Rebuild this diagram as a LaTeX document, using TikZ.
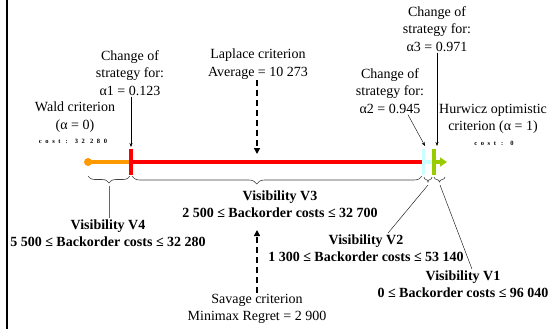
\documentclass[tikz,border=0pt]{standalone}
\usepackage{fontspec}
\setmainfont{Liberation Serif}
\newfontfamily\costfont[LetterSpace=55]{Liberation Serif}
\usepackage{tikz}
\usetikzlibrary{arrows.meta,decorations.pathreplacing}
\definecolor{waldorange}{RGB}{255,153,0}
\definecolor{lapred}{RGB}{255,0,0}
\definecolor{lightcyan}{RGB}{204,255,255}
\definecolor{hurgreen}{RGB}{153,204,0}

\tikzset{
  crit/.style={align=center, inner sep=1pt, font=\fontsize{14}{17.5}\selectfont},
  vis/.style={align=center, inner sep=1pt, font=\fontsize{14}{17.5}\selectfont\bfseries},
  cost/.style={inner sep=0pt, font=\costfont\fontsize{6.5}{7}\selectfont\bfseries},
  pointer/.style={-{Stealth[length=4pt,width=3pt]}, line width=0.4pt},
  dasharrow/.style={-{Triangle[length=6pt,width=6pt]}, line width=1.8pt, dash pattern=on 6pt off 4pt},
  seg/.style={line width=4.5pt},
  tickbar/.style={line width=3.5pt},
  vbrace/.style={decorate, decoration={brace, mirror, amplitude=#1}, black!75, line width=0.6pt},
}

\begin{document}
\begin{tikzpicture}[x=1pt,y=-1pt]
    \useasboundingbox (0,0) rectangle (553,329);
    % frame on the left
    \draw[line width=2.5pt] (7,0) -- (7,329);

    % alpha axis
    \coordinate (a0) at (88,162);
    \coordinate (a1) at (131,162);
    \coordinate (a2) at (423.5,162);
    \coordinate (a3) at (434,162);
    \coordinate (a4) at (447,162);
    \draw[seg,waldorange] (a0) -- (a1);
    \draw[seg,lapred] (a1) -- (a2);
    \draw[seg,lightcyan] (a2) -- (a3);
    \draw[seg,hurgreen,-{Triangle[length=7pt,width=9pt]}] (a3) -- (a4);
    \fill[waldorange] (a0) circle (4pt);
    \draw[tickbar,lapred] (a1) ++(0,-13) -- ++(0,26);
    \draw[tickbar,lightcyan] (a2) ++(0,-13) -- ++(0,26);
    \draw[tickbar,hurgreen] (a3) ++(0,-13) -- ++(0,26);

    % criteria above the axis
    \node[crit] (wald) at (75,117) {Wald criterion\\(α = 0)};
    \node[cost] (waldcost) at (73,141) {cost : 32 280};
    \node[crit] (ch1) at (130,73) {Change of\\strategy for:\\α1 = 0.123};
    \node[crit] (laplace) at (258,64) {Laplace criterion\\Average = 10 273};
    \node[crit] (ch2) at (390,91) {Change of\\strategy for:\\α2 = 0.945};
    \node[crit] (ch3) at (437,29) {Change of\\strategy for:\\α3 = 0.971};
    \node[crit] (hurwicz) at (493,119) {Hurwicz optimistic\\criterion (α = 1)};
    \node[cost] (hurcost) at (494,143) {cost : 0};

    \coordinate (t1) at (131,147);
    \coordinate (t2) at (425,146);
    \coordinate (t3) at (437,146);
    \coordinate (tl) at (257,154);
    \draw[pointer] (ch1.south -| t1) -- (t1);
    \draw[pointer] ([xshift=18pt]ch2.south) -- (t2);
    \draw[pointer] (ch3.south) -- (t3);
    \draw[dasharrow] (laplace.south -| tl) -- (tl);

    % visibility ranges below the axis
    \draw[vbrace=7] (88,176) -- (130,176);
    \draw[vbrace=8, decoration={aspect=0.43}] (132,176) -- (422,176);
    \draw[vbrace=5] (424,177) -- (432,177);
    \draw[vbrace=5] (434,177) -- (445,177);
    \coordinate (b4) at (109,186);
    \coordinate (b2) at (428,185);
    \coordinate (b1) at (440,185);

    \node[vis] (v4) at (108,233) {Visibility V4\\5 500 ≤ Backorder costs ≤ 32 280};
    \node[vis] (v3) at (280,204) {Visibility V3\\2 500 ≤ Backorder costs ≤ 32 700};
    \node[vis] (v2) at (366,248) {Visibility V2\\1 300 ≤ Backorder costs ≤ 53 140};
    \node[vis] (v1) at (463,284) {Visibility V1\\0 ≤ Backorder costs ≤ 96 040};
    \node[crit] (savage) at (257,309) {Savage criterion\\Minimax Regret = 2 900};

    \draw[black!60, line width=0.6pt] (b4) -- (v4.north -| b4);
    \draw[line width=0.4pt] (b2) -- ([xshift=22pt]v2.north);
    \draw[line width=0.4pt] (b1) -- ([xshift=9pt]v1.north);
    \coordinate (ts) at (257,230);
    \draw[dasharrow] (savage.north -| ts) -- (ts);
\end{tikzpicture}
\end{document}
